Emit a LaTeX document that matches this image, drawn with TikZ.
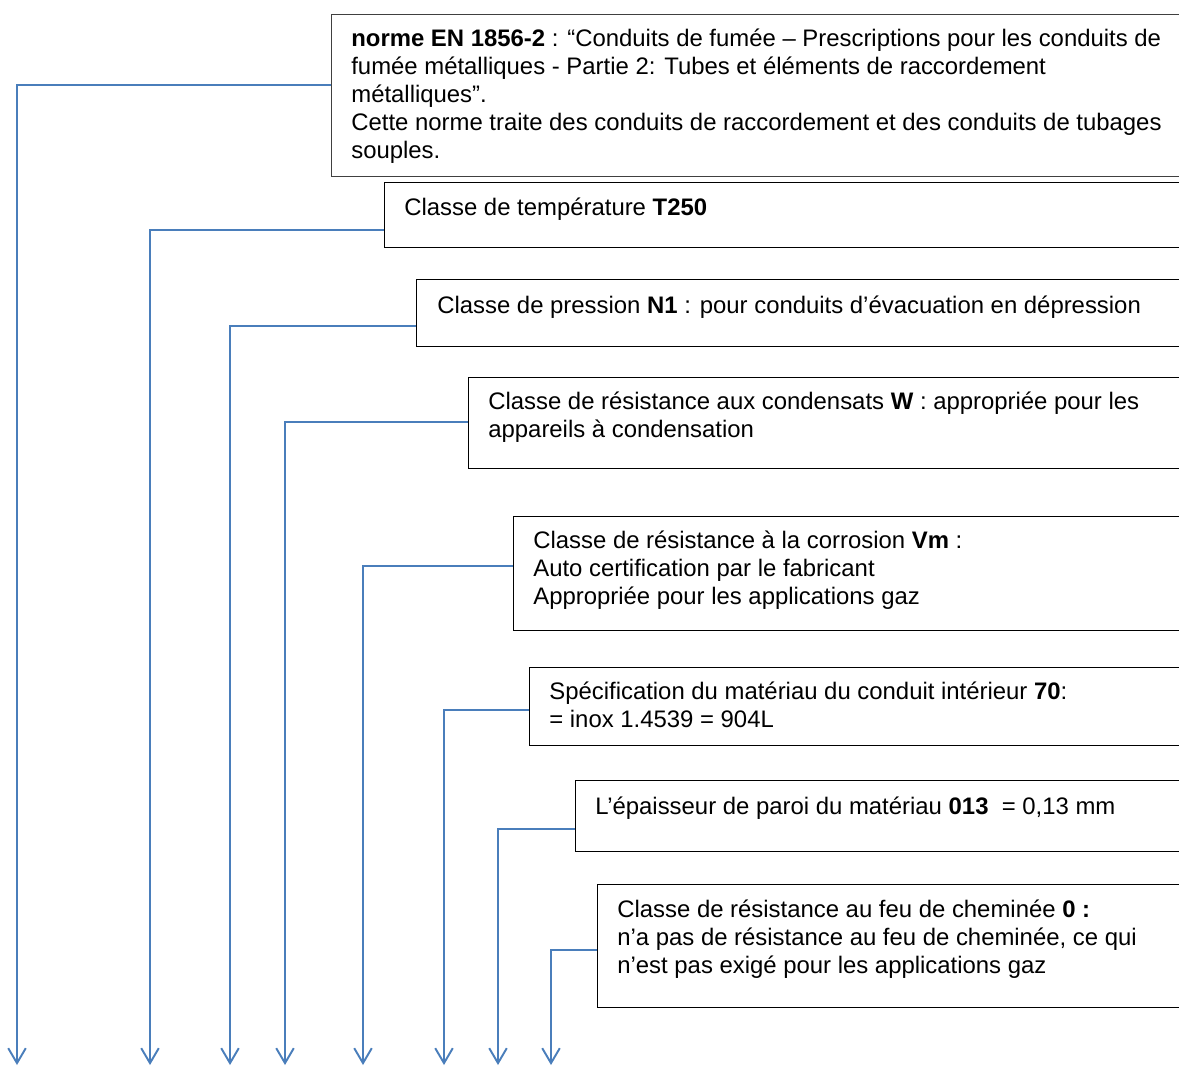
\documentclass[tikz,border=0pt]{standalone}
\usepackage{fontspec}
\setmainfont{Liberation Sans}
\usetikzlibrary{arrows.meta, calc, positioning}
\definecolor{lienbleu}{HTML}{4A7EBB}
\definecolor{bordgris}{HTML}{404040}

\begin{document}
\begin{tikzpicture}[x=0.02cm, y=-0.02cm]
    % --- Styles ---
    \tikzstyle{cadre}=[draw=black, line width=0.75pt, inner sep=0pt, anchor=north west]
    % base west = baseline of the last line of the text
    \tikzstyle{texte}=[align=left, inner sep=0pt, anchor=base west, font=\fontsize{13.6}{15.9}\selectfont]
    \tikzstyle{lien}=[
        -{Straight Barb[length=8.5pt, width=10pt]},
        color=lienbleu,
        line width=1.1pt
    ]

    % --- Page ---
    \useasboundingbox (0,0) rectangle (1179,1066);
    \clip (0,0) rectangle (1179,1066);

    % --- 1. The boxes (cut off on the right) ---
    \node[cadre, draw=bordgris, minimum width=17.38cm, minimum height=3.24cm] (b1) at (331,14) {};
    \node[cadre, minimum width=16.32cm, minimum height=1.30cm] (b2) at (384,182) {};
    \node[cadre, minimum width=15.68cm, minimum height=1.34cm] (b3) at (416,279) {};
    \node[cadre, minimum width=14.64cm, minimum height=1.82cm] (b4) at (468,377) {};
    \node[cadre, minimum width=13.74cm, minimum height=2.28cm] (b5) at (513,516) {};
    \node[cadre, minimum width=13.42cm, minimum height=1.56cm] (b6) at (529,667) {};
    \node[cadre, minimum width=12.50cm, minimum height=1.42cm] (b7) at (575,780) {};
    \node[cadre, minimum width=12.06cm, minimum height=2.46cm] (b8) at (597,884) {};

    % --- 2. The texts ---
    \node[texte] (t1) at ($(b1.north west)+(20,144)$) {%
        \textbf{norme EN 1856-2} : “Conduits de fumée – Prescriptions pour les conduits de\\
        fumée métalliques - Partie 2: Tubes et éléments de raccordement\\
        métalliques”.\\
        Cette norme traite des conduits de raccordement et des conduits de tubages\\
        souples.};
    \node[texte] (t2) at ($(b2.north west)+(20,33)$) {Classe de température \textbf{T250}};
    \node[texte] (t3) at ($(b3.north west)+(21,34)$) {Classe de pression \textbf{N1} : pour conduits d’évacuation en dépression};
    \node[texte] (t4) at ($(b4.north west)+(20,60)$) {%
        Classe de résistance aux condensats \textbf{W} : appropriée pour les\\
        appareils à condensation};
    \node[texte] (t5) at ($(b5.north west)+(20,88)$) {%
        Classe de résistance à la corrosion \textbf{Vm} :\\
        Auto certification par le fabricant\\
        Appropriée pour les applications gaz};
    \node[texte] (t6) at ($(b6.north west)+(20,60)$) {%
        Spécification du matériau du conduit intérieur \textbf{70}:\\
        = inox 1.4539 = 904L};
    \node[texte] (t7) at ($(b7.north west)+(20,34)$) {L’épaisseur de paroi du matériau \textbf{013}\ \ = 0,13 mm};
    \node[texte] (t8) at ($(b8.north west)+(20,89)$) {%
        Classe de résistance au feu de cheminée \textbf{0 :}\\
        n’a pas de résistance au feu de cheminée, ce qui\\
        n’est pas exigé pour les applications gaz};

    % --- 3. Arrow ends at the bottom ---
    \coordinate (p1) at (17,1065);
    \coordinate (p2) at (150,1065);
    \coordinate (p3) at (230,1065);
    \coordinate (p4) at (285,1065);
    \coordinate (p5) at (363,1065);
    \coordinate (p6) at (444,1065);
    \coordinate (p7) at (498,1065);
    \coordinate (p8) at (551,1065);

    % --- 4. Connectors ---
    \draw[lien] ($(b1.north west)+(0,71)$) -| (p1);
    \draw[lien] ($(b2.north west)+(0,48)$) -| (p2);
    \draw[lien] ($(b3.north west)+(0,47)$) -| (p3);
    \draw[lien] ($(b4.north west)+(0,45)$) -| (p4);
    \draw[lien] ($(b5.north west)+(0,50)$) -| (p5);
    \draw[lien] ($(b6.north west)+(0,43)$) -| (p6);
    \draw[lien] ($(b7.north west)+(0,49)$) -| (p7);
    \draw[lien] ($(b8.north west)+(0,66)$) -| (p8);

\end{tikzpicture}
\end{document}
